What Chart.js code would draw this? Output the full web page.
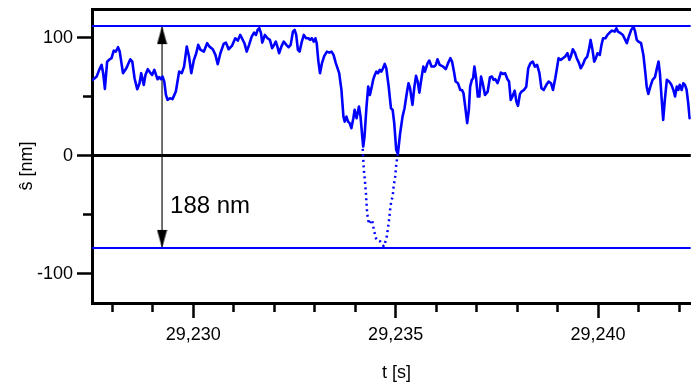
<!DOCTYPE html>
<html>
<head>
<meta charset="utf-8">
<script src="https://cdn.jsdelivr.net/npm/chart.js@4.4.1/dist/chart.umd.min.js"></script>
<style>
  html, body { margin: 0; padding: 0; background: #fff; }
  canvas { display: block; }
</style>
</head>
<body>
<canvas id="chart" width="697" height="385"></canvas>
<script>
// axis ranges and tick values
const tMin = 29227.5, tMax = 29242.29;
const sMin = -124.7, sMax = 124.5;
const sTicks = [-100, -50, 0, 50, 100];

// measured height trace (t in s, s-hat in nm)
const timeS = [
  29227.500, 29227.615, 29227.678, 29227.737, 29227.776, 29227.818, 29227.874, 29227.940, 29227.982, 29228.038,
  29228.087, 29228.143, 29228.185, 29228.265, 29228.348, 29228.446, 29228.495, 29228.551, 29228.617, 29228.674,
  29228.715, 29228.779, 29228.820, 29228.877, 29228.935, 29228.984, 29229.040, 29229.082, 29229.121, 29229.163,
  29229.204, 29229.243, 29229.285, 29229.326, 29229.366, 29229.424, 29229.488, 29229.571, 29229.652, 29229.718,
  29229.774, 29229.840, 29229.896, 29229.952, 29230.018, 29230.075, 29230.123, 29230.182, 29230.263, 29230.344,
  29230.402, 29230.483, 29230.549, 29230.605, 29230.671, 29230.752, 29230.808, 29230.874, 29230.955, 29231.038,
  29231.102, 29231.160, 29231.216, 29231.265, 29231.322, 29231.380, 29231.444, 29231.503, 29231.551, 29231.591,
  29231.632, 29231.674, 29231.705, 29231.771, 29231.835, 29231.894, 29231.950, 29231.999, 29232.040, 29232.080,
  29232.121, 29232.177, 29232.236, 29232.300, 29232.358, 29232.407, 29232.463, 29232.505, 29232.544, 29232.586,
  29232.627, 29232.683, 29232.732, 29232.789, 29232.847, 29232.886, 29232.928, 29232.977, 29233.018, 29233.050,
  29233.092, 29233.131, 29233.180, 29233.238, 29233.302, 29233.361, 29233.417, 29233.466, 29233.522, 29233.605,
  29233.661, 29233.710, 29233.742, 29233.784, 29233.825, 29233.864, 29233.906, 29233.955, 29233.987, 29234.035,
  29234.094, 29234.133, 29234.175, 29234.199, 29234.231, 29234.280, 29234.322, 29234.363, 29234.402, 29234.444,
  29234.485, 29234.524, 29234.566, 29234.608, 29234.647, 29234.688, 29234.730, 29234.769, 29234.828, 29234.884,
  29234.926, 29234.965, 29235.014, 29235.055, 29235.111, 29235.170, 29235.219, 29235.275, 29235.317, 29235.356,
  29235.415, 29235.463, 29235.503, 29235.544, 29235.586, 29235.625, 29235.684, 29235.723, 29235.789, 29235.830,
  29235.886, 29235.952, 29235.992, 29236.033, 29236.089, 29236.173, 29236.236, 29236.295, 29236.351, 29236.393,
  29236.441, 29236.481, 29236.539, 29236.595, 29236.637, 29236.676, 29236.718, 29236.767, 29236.808, 29236.840,
  29236.882, 29236.913, 29236.945, 29236.987, 29237.028, 29237.067, 29237.109, 29237.150, 29237.207, 29237.273,
  29237.329, 29237.378, 29237.420, 29237.459, 29237.517, 29237.557, 29237.598, 29237.647, 29237.703, 29237.762,
  29237.801, 29237.842, 29237.884, 29237.940, 29237.982, 29238.021, 29238.070, 29238.111, 29238.168, 29238.226,
  29238.275, 29238.331, 29238.388, 29238.437, 29238.495, 29238.551, 29238.600, 29238.657, 29238.723, 29238.779,
  29238.837, 29238.886, 29238.943, 29238.984, 29239.023, 29239.082, 29239.131, 29239.187, 29239.243, 29239.292,
  29239.326, 29239.375, 29239.432, 29239.473, 29239.529, 29239.571, 29239.620, 29239.676, 29239.732, 29239.781,
  29239.815, 29239.855, 29239.904, 29239.945, 29239.987, 29240.043, 29240.084, 29240.124, 29240.182, 29240.231,
  29240.287, 29240.344, 29240.410, 29240.451, 29240.490, 29240.556, 29240.612, 29240.671, 29240.710, 29240.759,
  29240.818, 29240.874, 29240.916, 29240.955, 29240.996, 29241.062, 29241.119, 29241.168, 29241.200, 29241.241,
  29241.290, 29241.346, 29241.405, 29241.444, 29241.493, 29241.527, 29241.566, 29241.608, 29241.649, 29241.698,
  29241.754, 29241.811, 29241.860, 29241.901, 29241.943, 29241.982, 29242.016, 29242.065, 29242.104, 29242.146,
  29242.187, 29242.226, 29242.261, 29242.292
];

const heightNm = [
  64.0, 67.2, 72.9, 77.1, 70.1, 56.8, 79.9, 81.9, 82.8, 89.2,
  88.4, 92.1, 88.4, 70.1, 74.3, 81.9, 79.9, 65.8, 56.5, 61.6,
  70.1, 60.2, 68.6, 73.5, 70.6, 68.6, 72.9, 68.6, 65.0, 66.7,
  65.0, 67.2, 63.0, 51.7, 47.5, 48.9, 48.1, 54.5, 71.4, 70.1,
  75.7, 92.6, 84.2, 70.1, 81.4, 87.0, 94.1, 89.8, 88.4, 95.5,
  92.6, 90.4, 85.6, 77.7, 87.0, 94.9, 96.0, 90.4, 93.2, 99.7,
  97.7, 102.5, 98.9, 95.5, 88.4, 94.1, 101.1, 104.5, 102.5, 106.8,
  108.2, 104.0, 96.0, 102.5, 99.7, 98.3, 91.3, 94.1, 96.9, 92.6,
  87.0, 92.6, 96.9, 94.1, 92.1, 94.1, 105.3, 106.8, 102.5, 89.8,
  88.4, 96.9, 102.5, 99.7, 99.7, 98.3, 99.7, 96.9, 99.7, 95.5,
  79.9, 70.1, 78.6, 84.7, 88.4, 87.5, 88.4, 85.6, 78.6, 70.1,
  55.9, 33.3, 29.1, 33.3, 29.1, 27.7, 23.5, 31.9, 39.0, 31.9,
  41.8, 33.3, 16.4, 7.9, 16.4, 41.8, 58.7, 51.7, 57.4, 64.4,
  68.6, 71.4, 70.1, 72.9, 71.4, 74.3, 78.0, 74.3, 58.7, 40.4,
  39.0, 27.7, 5.1, 1.7, 19.2, 33.3, 40.4, 53.1, 61.6, 57.4,
  43.2, 58.7, 67.8, 63.0, 53.6, 63.0, 75.7, 71.4, 78.6, 80.8,
  75.7, 75.7, 77.1, 81.9, 77.1, 75.7, 73.5, 78.6, 82.8, 79.9,
  71.4, 63.0, 61.6, 55.9, 55.9, 53.1, 41.8, 27.7, 39.0, 58.7,
  64.4, 65.8, 75.7, 65.8, 50.3, 50.3, 67.2, 61.6, 51.7, 54.5,
  66.7, 67.2, 64.4, 65.0, 61.6, 65.8, 70.6, 69.5, 70.1, 65.0,
  63.0, 47.5, 50.3, 55.3, 46.0, 42.4, 52.5, 54.5, 55.9, 58.7,
  74.3, 78.6, 79.9, 75.7, 77.1, 70.1, 57.4, 55.9, 60.2, 63.0,
  61.6, 55.9, 65.8, 74.3, 82.8, 81.4, 82.8, 84.2, 87.0, 81.4,
  84.2, 90.4, 87.0, 82.8, 78.6, 74.3, 77.1, 81.9, 84.2, 91.3,
  98.3, 91.3, 79.9, 82.8, 87.0, 85.6, 94.1, 99.7, 99.7, 102.5,
  104.5, 106.2, 105.3, 108.2, 105.3, 104.0, 102.5, 98.3, 95.5, 101.1,
  106.8, 109.6, 105.3, 98.3, 96.9, 95.5, 85.6, 70.1, 58.7, 52.5,
  58.7, 64.4, 66.7, 72.9, 79.9, 70.1, 50.3, 30.5, 47.5, 64.4,
  63.0, 60.2, 55.9, 50.3, 58.7, 55.9, 60.2, 55.9, 61.6, 60.2,
  55.9, 44.7, 31.9, 33.3
];

// dotted continuation of the dip below zero
const dipTimeS = [
  29234.187, 29234.214, 29234.239, 29234.263, 29234.278, 29234.295, 29234.339, 29234.378,
  29234.419, 29234.461, 29234.524, 29234.622, 29234.706, 29234.769, 29234.811, 29234.842,
  29234.867, 29234.891, 29234.926, 29234.950, 29234.989, 29235.014, 29235.048
];
const dipHeightNm = [
  5.9, -11.9, -20.3, -30.3, -38.7, -48.6, -57.9, -55.7,
  -54.2, -62.7, -71.2, -72.6, -76.7, -70.6, -61.3, -52.8,
  -44.3, -38.7, -34.5, -26.0, -17.5, -7.6, 0.8
];

// reference levels and the span marker between them
const bandLevels = [110, -78];
const arrowTime = 29229.23;
const spanText = '188 nm';
const spanTextLevel = -42.4;

const blue = '#0000ff';
const fontFamily = '"Liberation Sans", Arial, Helvetica, sans-serif';
Chart.defaults.font.family = fontFamily;
Chart.defaults.color = '#000';

// arrow heads drawn as point images, tip at the point centre
function arrowHead(up) {
  const c = document.createElement('canvas');
  c.width = 11; c.height = 38;
  const g = c.getContext('2d');
  g.fillStyle = '#000';
  g.beginPath();
  if (up) { g.moveTo(5.5, 19); g.lineTo(0.5, 37); g.lineTo(10.5, 37); }
  else { g.moveTo(5.5, 19); g.lineTo(0.5, 1); g.lineTo(10.5, 1); }
  g.closePath();
  g.fill();
  return c;
}

// "188 nm" text next to the arrow
const spanLabel = {
  id: 'spanLabel',
  afterDatasetsDraw(chart) {
    const { ctx, scales: { x, y } } = chart;
    ctx.save();
    ctx.font = '24px ' + fontFamily;
    ctx.fillStyle = '#000';
    ctx.textBaseline = 'middle';
    ctx.fillText(spanText, x.getPixelForValue(arrowTime) + 8, y.getPixelForValue(spanTextLevel));
    ctx.restore();
  }
};

const toPoints = (xs, ys) => xs.map((t, i) => ({ x: t, y: ys[i] }));
const tickFont = { size: 18 };

new Chart(document.getElementById('chart'), {
  type: 'line',
  data: {
    datasets: [
      {
        data: [{ x: tMin, y: bandLevels[0] }, { x: tMax, y: bandLevels[0] }],
        borderColor: blue, borderWidth: 2, pointRadius: 0
      },
      {
        data: [{ x: tMin, y: bandLevels[1] }, { x: tMax, y: bandLevels[1] }],
        borderColor: blue, borderWidth: 2, pointRadius: 0
      },
      {
        data: toPoints(dipTimeS, dipHeightNm),
        borderColor: blue, borderWidth: 2.5, borderDash: [2, 3.5], pointRadius: 0
      },
      {
        data: toPoints(timeS, heightNm),
        borderColor: blue, borderWidth: 2.6, borderJoinStyle: 'round', pointRadius: 0
      },
      {
        data: [{ x: arrowTime, y: bandLevels[0] }, { x: arrowTime, y: bandLevels[1] }],
        borderColor: '#111', borderWidth: 1.2,
        pointRadius: 5, pointStyle: [arrowHead(true), arrowHead(false)]
      }
    ]
  },
  options: {
    responsive: false,
    animation: false,
    events: [],
    layout: { padding: { top: 9, left: 0, right: 0, bottom: 0 } },
    plugins: { legend: { display: false }, tooltip: { enabled: false } },
    scales: {
      x: {
        type: 'linear', min: tMin, max: tMax,
        afterFit(s) { s.height = 82; s.paddingLeft = 0; s.paddingRight = 0; },
        border: { color: '#000', width: 3 },
        grid: {
          drawOnChartArea: false, tickColor: '#000', tickWidth: 2.5, tickLength: 15,
          tickBorderDash: c => (c.tick && c.tick.value % 5 === 0) ? [] : [7, 30]
        },
        ticks: {
          stepSize: 1, includeBounds: false, autoSkip: false, maxRotation: 0, padding: 6,
          color: '#000', font: tickFont,
          callback: v => v % 5 === 0 ? v.toLocaleString('en-US') : ''
        },
        title: { display: true, text: '  t [s]', color: '#000', font: tickFont, padding: { top: 0, bottom: 1 } }
      },
      xTop: {
        type: 'linear', position: 'top', min: tMin, max: tMax,
        afterFit(s) { s.height = 0; s.paddingLeft = 0; s.paddingRight = 0; },
        border: { color: '#000', width: 3 },
        grid: { drawOnChartArea: false, drawTicks: false },
        ticks: { display: false }
      },
      y: {
        min: sMin, max: sMax,
        afterBuildTicks(s) { s.ticks = sTicks.map(v => ({ value: v })); },
        afterFit(s) { s.width = 92; s.paddingTop = 0; s.paddingBottom = 0; },
        border: { color: '#000', width: 3 },
        grid: {
          color: c => (c.tick && c.tick.value === 0) ? '#000' : 'rgba(0,0,0,0)',
          lineWidth: 3, tickColor: '#000', tickWidth: 2.5, tickLength: 15,
          tickBorderDash: c => (c.tick && c.tick.value % 100 === 0) ? [] : [0, 6, 20]
        },
        ticks: {
          padding: 4, color: '#000', font: tickFont,
          callback: v => v % 100 === 0 ? String(v) : ''
        },
        title: { display: true, text: 'ŝ [nm]    ', color: '#000', font: tickFont, padding: { top: 16, bottom: 0 } }
      }
    }
  },
  plugins: [spanLabel]
});
</script>
</body>
</html>
